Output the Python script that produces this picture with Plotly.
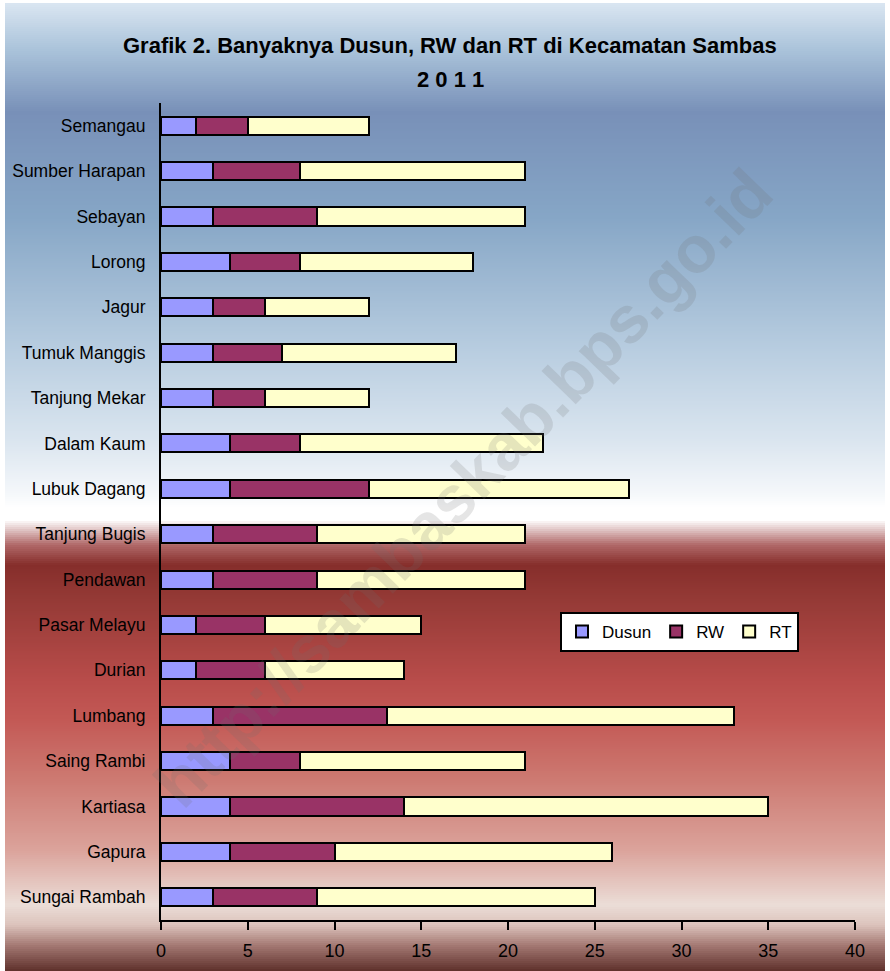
import plotly.graph_objects as go

categories = ["Semangau", "Sumber Harapan", "Sebayan", "Lorong", "Jagur", "Tumuk Manggis",
              "Tanjung Mekar", "Dalam Kaum", "Lubuk Dagang", "Tanjung Bugis", "Pendawan",
              "Pasar Melayu", "Durian", "Lumbang", "Saing Rambi", "Kartiasa", "Gapura",
              "Sungai Rambah"]
dusun = [2, 3, 3, 4, 3, 3, 3, 4, 4, 3, 3, 2, 2, 3, 4, 4, 4, 3]
rw    = [3, 5, 6, 4, 3, 4, 3, 4, 8, 6, 6, 4, 4, 10, 4, 10, 6, 6]
rt    = [7, 13, 12, 10, 6, 10, 6, 14, 15, 12, 12, 9, 8, 20, 13, 21, 16, 16]
x_ticks = [0, 5, 10, 15, 20, 25, 30, 35, 40]

W, H = 890, 971
L, R, T, B = 161, 855, 103, 920  # plot area in px

def px_x(x):
    return (x - L) / (R - L)

def px_y(y):
    return (B - y) / (B - T)

stops = [
    (3, (218, 230, 242)), (50, (170, 195, 218)), (112, (120, 144, 184)),
    (217, (134, 166, 198)), (350, (184, 205, 224)), (440, (218, 229, 239)),
    (495, (245, 248, 251)), (507, (255, 255, 255)), (520, (255, 255, 255)),
    (545, (176, 104, 104)), (565, (134, 46, 43)), (600, (149, 58, 54)),
    (680, (184, 76, 74)), (720, (195, 89, 85)), (780, (205, 122, 114)),
    (850, (219, 163, 155)), (905, (235, 221, 215)), (925, (220, 195, 188)),
    (945, (165, 122, 116)), (971, (94, 48, 43)),
]

def color_at(y):
    for (y0, c0), (y1, c1) in zip(stops, stops[1:]):
        if y0 <= y <= y1:
            t = (y - y0) / (y1 - y0) if y1 > y0 else 0
            return tuple(round(a + (b - a) * t) for a, b in zip(c0, c1))
    return stops[-1][1] if y > stops[-1][0] else stops[0][1]

shapes = []
step = 2
y = 3
while y < H:
    c = color_at(y + step / 2)
    shapes.append(dict(type="rect", xref="paper", yref="paper", layer="below",
                       x0=px_x(5), x1=px_x(885), y0=px_y(min(y + step + 0.5, H)), y1=px_y(y),
                       fillcolor="rgb(%d,%d,%d)" % c, line=dict(width=0)))
    y += step

fig = go.Figure()
series = [("Dusun", dusun, "#9999ff"), ("RW", rw, "#993366"), ("RT", rt, "#ffffcc")]
for name, vals, col in series:
    fig.add_trace(go.Bar(y=categories, x=vals, name=name, orientation="h",
                         marker=dict(color=col, line=dict(color="black", width=2)),
                         width=0.4))

title_font = dict(family="Liberation Sans Narrow, Arial Narrow, Liberation Sans, sans-serif", size=22)
fig.update_layout(
    width=W, height=H, barmode="stack",
    margin=dict(l=L, r=W - R, t=T, b=H - B, autoexpand=False),
    paper_bgcolor="white", plot_bgcolor="rgba(0,0,0,0)",
    shapes=shapes,
    font=dict(family="Liberation Sans, Arial, sans-serif", color="black", size=17),
    legend=dict(orientation="h", x=px_x(560), y=px_y(612), xanchor="left", yanchor="top",
                bgcolor="white", bordercolor="black", borderwidth=2,
                font=dict(size=17), traceorder="normal", itemwidth=30),
    annotations=[
        dict(text="<b>Grafik 2. Banyaknya Dusun, RW dan RT di Kecamatan Sambas</b>",
             xref="paper", yref="paper", x=px_x(450), y=px_y(45), showarrow=False,
             yanchor="middle", font=title_font),
        dict(text="<b>2 0 1 1</b>",
             xref="paper", yref="paper", x=px_x(450), y=px_y(79), showarrow=False,
             yanchor="middle", font=title_font),
        dict(text="<b>http://sambaskab.bps.go.id</b>", xref="paper", yref="paper",
             x=px_x(463), y=px_y(488), showarrow=False, textangle=-46,
             yanchor="middle", xanchor="center",
             font=dict(family="Liberation Sans, Arial, sans-serif", size=66,
                       color="rgba(110,110,110,0.18)")),
    ],
)
fig.update_xaxes(range=[0, 40], tickvals=x_ticks, ticks="outside", ticklen=8, tickwidth=2,
                 tickcolor="black", showline=True, linecolor="black", linewidth=2,
                 showgrid=False, zeroline=False, ticklabelstandoff=5,
                 tickfont=dict(family="Liberation Sans Narrow, Arial Narrow, Liberation Sans, sans-serif", size=18))
fig.update_yaxes(autorange="reversed", showline=True, linecolor="black", linewidth=2,
                 showgrid=False, ticks="", ticklabelstandoff=10,
                 tickfont=dict(size=17.5))
fig.write_html("out.html", config={"displayModeBar": False},
               post_script="document.body.style.margin='0';")
